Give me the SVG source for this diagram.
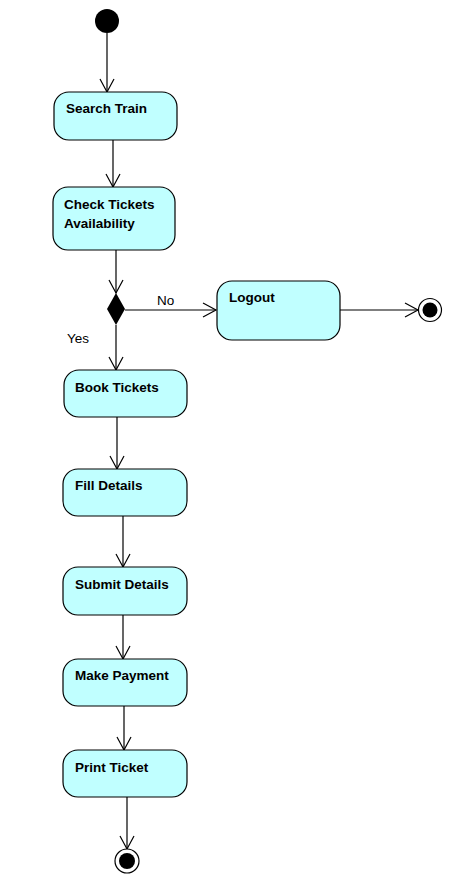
<svg xmlns="http://www.w3.org/2000/svg" width="451" height="882" viewBox="0 0 451 882">
<defs>
<marker id="arr" markerWidth="16" markerHeight="16" viewBox="0 0 16 16" refX="14" refY="8" orient="auto" markerUnits="userSpaceOnUse">
<path d="M1,1 L14,8 L1,15" fill="none" stroke="#000" stroke-width="1.2"/>
</marker>
<style>
.act{fill:#C0FFFF;stroke:#000;stroke-width:1.2}
.lbl{font-family:"Liberation Sans",Arial,sans-serif;font-weight:bold;font-size:13.5px;fill:#000}
.gl{font-family:"Liberation Sans",Arial,sans-serif;font-size:13.5px;fill:#000}
.c{fill:none;stroke:#000;stroke-width:1.2;marker-end:url(#arr)}
</style>
</defs>
<rect width="451" height="882" fill="#fff"/>
<g id="connectors">
<line class="c" x1="107" y1="33" x2="107" y2="92"/>
<line class="c" x1="113" y1="140" x2="113" y2="187"/>
<line class="c" x1="116" y1="250" x2="116" y2="293"/>
<line class="c" x1="125" y1="310" x2="216" y2="310"/>
<line class="c" x1="340" y1="310" x2="418" y2="310"/>
<line class="c" x1="116" y1="325" x2="116" y2="370"/>
<line class="c" x1="117" y1="417" x2="117" y2="469"/>
<line class="c" x1="123" y1="516" x2="123" y2="567"/>
<line class="c" x1="123" y1="615" x2="123" y2="659"/>
<line class="c" x1="124" y1="706" x2="124" y2="750"/>
<line class="c" x1="127" y1="797" x2="127" y2="849"/>
<text class="gl" x="157" y="305">No</text>
<text class="gl" x="67" y="343">Yes</text>
</g>
<g id="start"><circle cx="107" cy="21" r="12" fill="#000"/></g>
<g id="search"><rect class="act" x="54" y="92" width="123" height="48" rx="15"/><text class="lbl" x="66" y="113">Search Train</text></g>
<g id="check"><rect class="act" x="53" y="187" width="122" height="63" rx="15"/><text class="lbl" x="64" y="209">Check Tickets</text><text class="lbl" x="64" y="228">Availability</text></g>
<g id="decision"><polygon points="116,293 125,309 116,325 107,309" fill="#000"/></g>
<g id="logout"><rect class="act" x="217" y="281" width="123" height="59" rx="15"/><text class="lbl" x="229" y="302">Logout</text></g>
<g id="end1"><circle cx="430" cy="310" r="11.5" fill="#fff" stroke="#000" stroke-width="1.2"/><circle cx="430" cy="310" r="7.5" fill="#000"/></g>
<g id="book"><rect class="act" x="64" y="370" width="123" height="47" rx="15"/><text class="lbl" x="75" y="392">Book Tickets</text></g>
<g id="fill"><rect class="act" x="63" y="469" width="124" height="47" rx="15"/><text class="lbl" x="75" y="490">Fill Details</text></g>
<g id="submit"><rect class="act" x="63" y="567" width="124" height="48" rx="15"/><text class="lbl" x="75" y="589">Submit Details</text></g>
<g id="payment"><rect class="act" x="63" y="659" width="124" height="47" rx="15"/><text class="lbl" x="75" y="680">Make Payment</text></g>
<g id="print"><rect class="act" x="63" y="750" width="124" height="47" rx="15"/><text class="lbl" x="75" y="772">Print Ticket</text></g>
<g id="end2"><circle cx="127" cy="861" r="12" fill="#fff" stroke="#000" stroke-width="1.2"/><circle cx="127" cy="861" r="8" fill="#000"/></g>
</svg>
